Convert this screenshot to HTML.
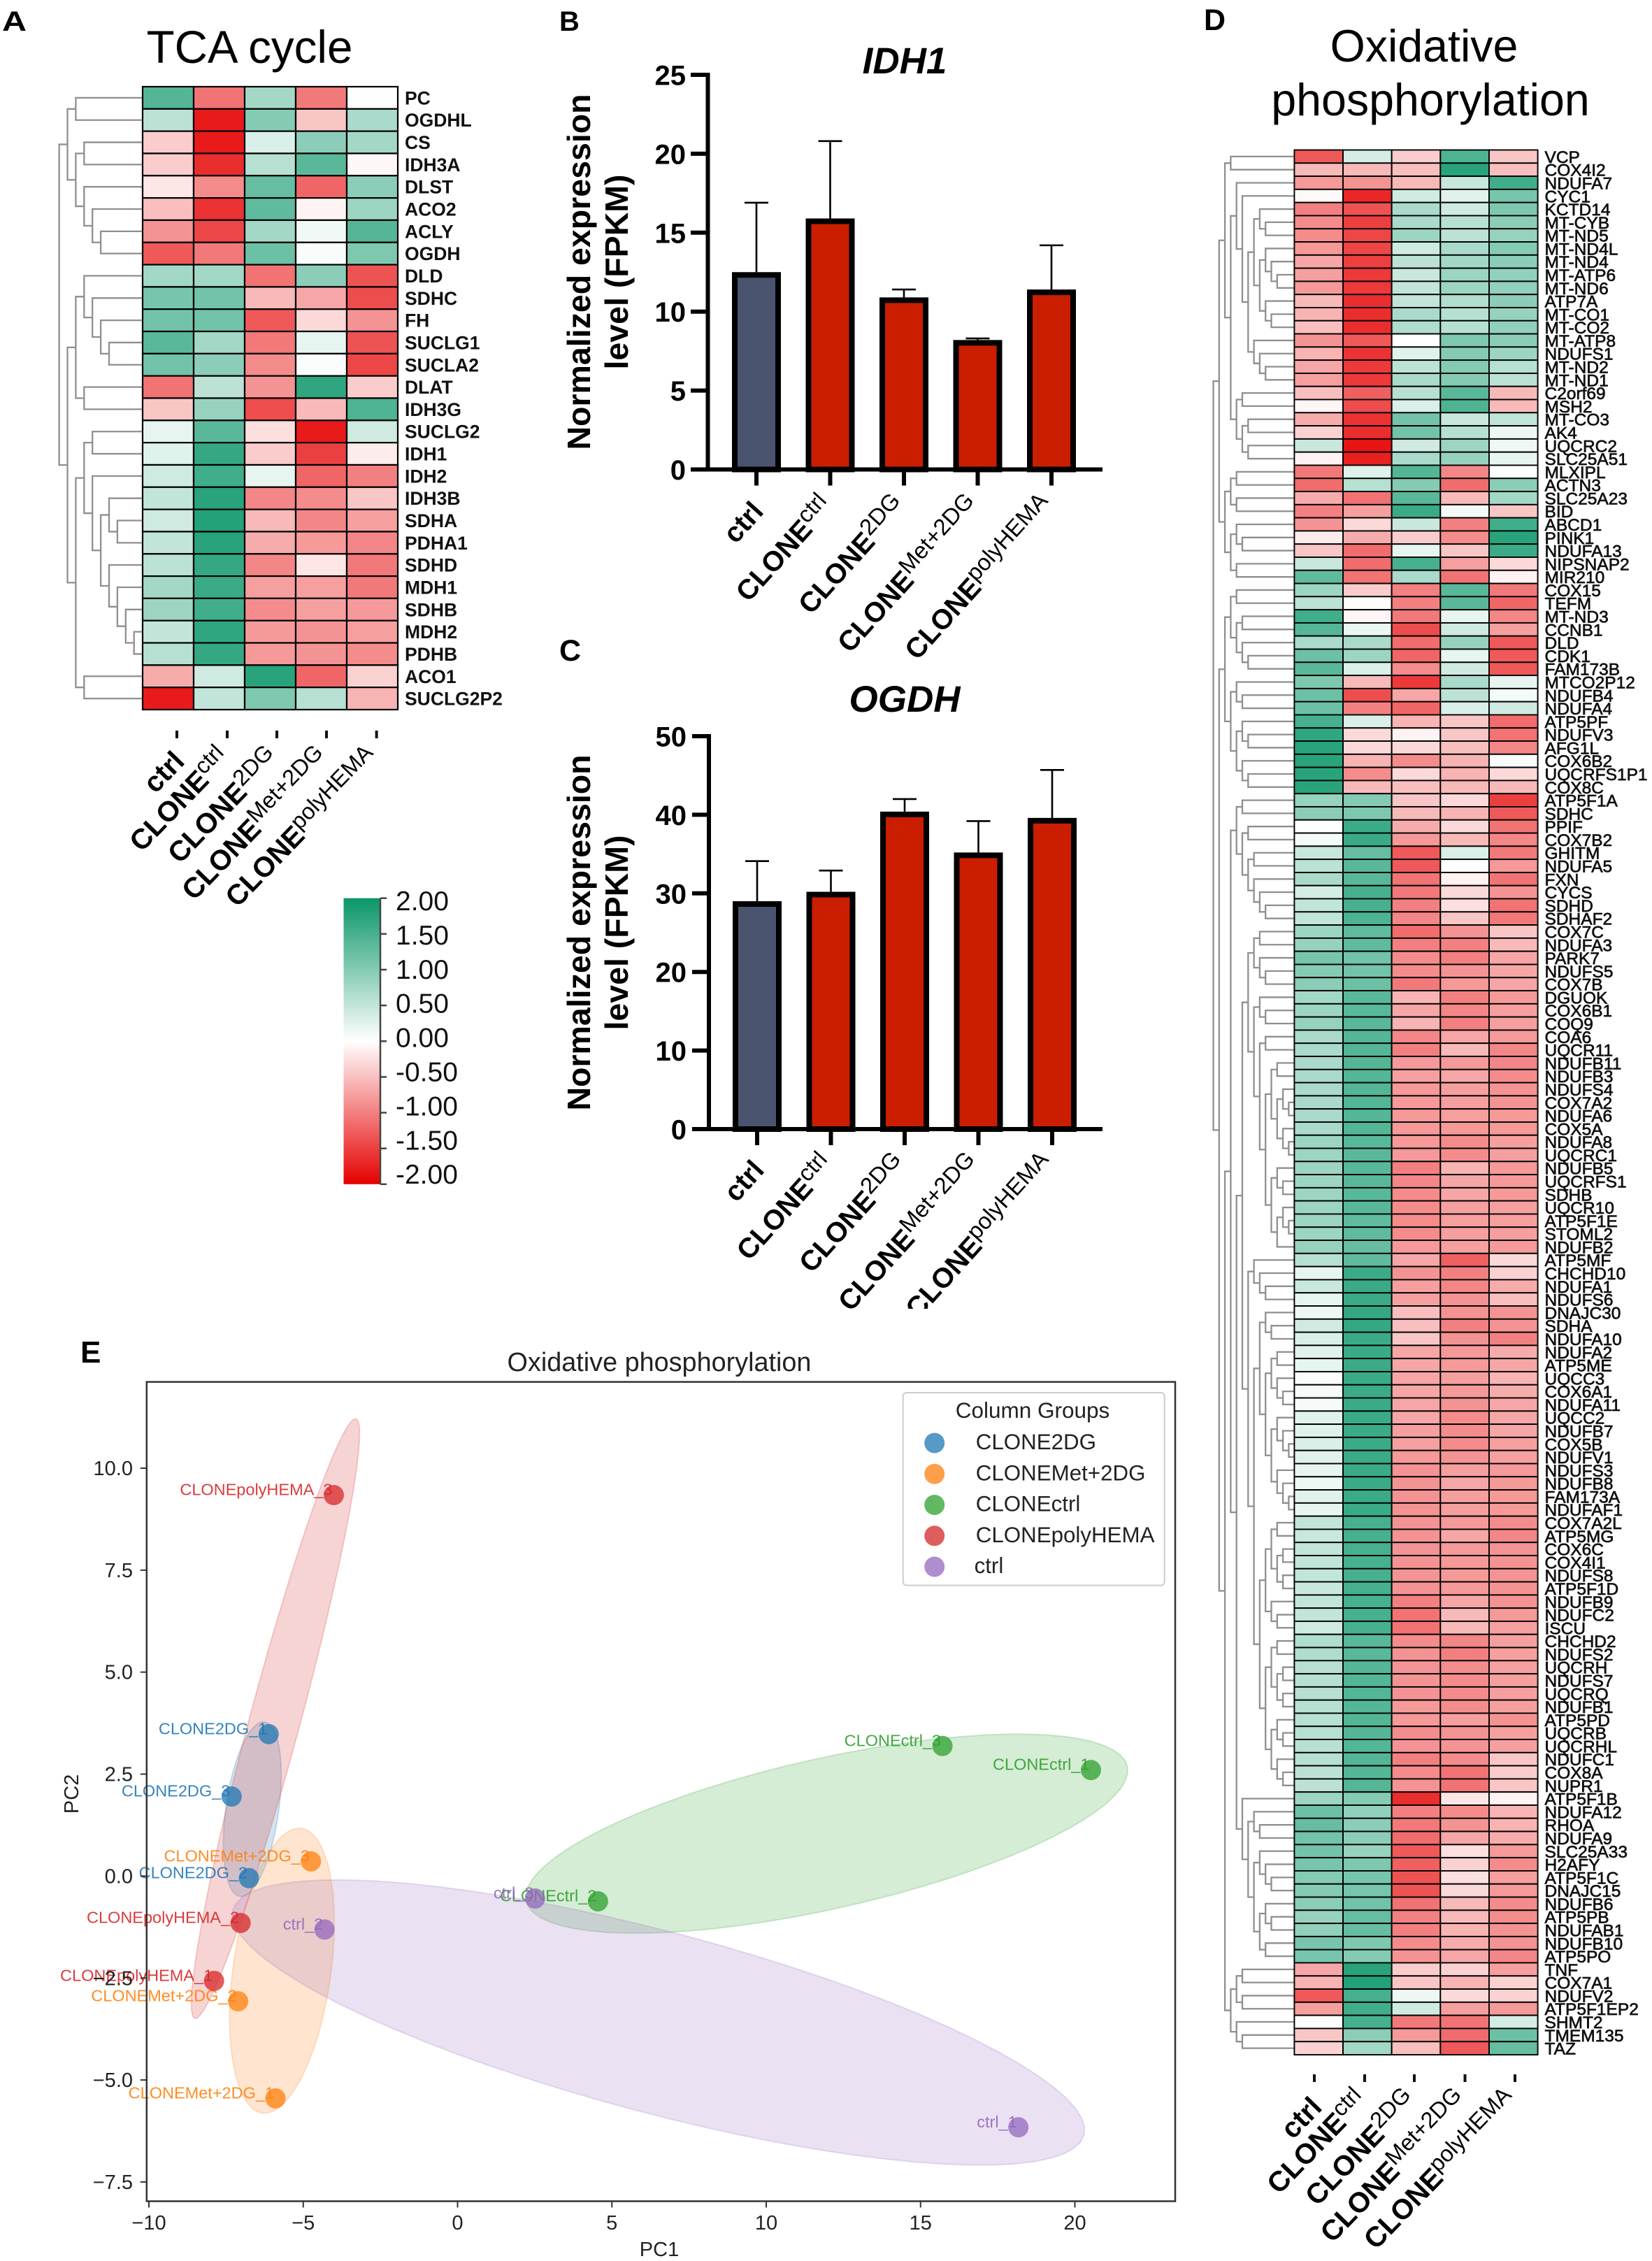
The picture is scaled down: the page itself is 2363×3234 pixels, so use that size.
<!DOCTYPE html>
<html lang="en">
<head>
<meta charset="utf-8">
<title>TCA cycle and oxidative phosphorylation figure</title>
<style>
html,body{margin:0;padding:0;background:#fff;}
svg{display:block;font-family:"Liberation Sans",Arial,sans-serif;}
</style>
</head>
<body>
<svg id="figure" xmlns="http://www.w3.org/2000/svg" width="2363" height="3234" viewBox="0 0 2363 3234">
  <defs>
    <clipPath id="clip-c-labels"><rect x="950" y="1600" width="700" height="272"/></clipPath>
    <linearGradient id="colorbar-gradient" x1="0" y1="0" x2="0" y2="1"></linearGradient>
  </defs>
  <rect x="0" y="0" width="2363" height="3234" fill="#fff"/>
  <text x="3" y="44" font-size="40" font-weight="bold" textLength="35" lengthAdjust="spacingAndGlyphs">A</text>
  <text x="800" y="44" font-size="40" font-weight="bold">B</text>
  <text x="800" y="945" font-size="43" font-weight="bold">C</text>
  <text x="1722" y="43" font-size="43" font-weight="bold">D</text>
  <text x="115" y="1949" font-size="44" font-weight="bold">E</text>
  <text x="357" y="90" font-size="65.5" text-anchor="middle">TCA cycle</text>
  <text x="2037" y="88" font-size="64.5" text-anchor="middle">Oxidative</text>
  <text x="2046" y="165" font-size="64.5" text-anchor="middle">phosphorylation</text>
  <g id="panel-a"></g>
  <g id="panel-colorbar"></g>
  <g id="panel-b"></g>
  <g id="panel-c"></g>
  <g id="panel-d"></g>
  <g id="panel-e"></g>
</svg>
<script>
/* ---------- shared category labels ---------- */
const conditionBase = ['ctrl', 'CLONE', 'CLONE', 'CLONE', 'CLONE'];
const conditionSup = ['', 'ctrl', '2DG', 'Met+2DG', 'polyHEMA'];

/* ---------- panel A data ---------- */
const tcaGenes = ['PC','OGDHL','CS','IDH3A','DLST','ACO2','ACLY','OGDH','DLD','SDHC','FH','SUCLG1','SUCLA2','DLAT','IDH3G','SUCLG2','IDH1','IDH2','IDH3B','SDHA','PDHA1','SDHD','MDH1','SDHB','MDH2','PDHB','ACO1','SUCLG2P2'];
const tcaValues = [
[1.4,-1.1,.75,-1.05,.02],[.55,-1.8,1,-.45,.7],[-.4,-1.8,.3,.95,.75],[-.4,-1.65,.6,1.35,-.06],
[-.2,-.9,1.25,-1.2,.95],[-.5,-1.6,1.3,-.1,.8],[-.85,-1.45,.75,.12,1.4],[-1.3,-1.05,1.2,.06,1.05],
[.75,.75,-1.1,.95,-1.35],[1.1,1.15,-.55,-.7,-1.4],[1.15,1.15,-1.3,-.3,-.85],[1.35,.75,-1.05,.2,-1.35],
[1.15,.95,-.9,.04,-1.45],[-1.1,.55,-.85,1.7,-.4],[-.45,.85,-1.4,-.55,1.45],[.2,1.35,-.25,-1.8,.4],
[.25,1.65,-.4,-1.5,-.15],[.4,1.55,.2,-1.2,-1],[.5,1.75,-.95,-.9,-.45],[.4,1.8,-.55,-.95,-.75],
[.5,1.75,-.65,-.8,-.95],[.55,1.65,-.95,-.2,-1.05],[.75,1.6,-.75,-.75,-1.05],[.8,1.55,-.9,-.75,-.8],
[.5,1.7,-.8,-.85,-.75],[.6,1.65,-.8,-.85,-.9],[-.65,.4,1.75,-1.2,-.35],[-1.8,.5,1.05,.6,-.6]];
const tcaTree = '(' +
  '((..)((..)(.(.(..)))))' +
  '(' +
    '((.(.(.(..))))(..))' +
    '(((..)(.((.(..))(.(.(.(..)))))))(..))' +
  ')' +
')';

/* ---------- colorbar data ---------- */
const colorbarTicks = [2, 1.5, 1, 0.5, 0, -0.5, -1, -1.5, -2];
const colorbarLabels = ['2.00','1.50','1.00','0.50','0.00','-0.50','-1.00','-1.50','-2.00'];

/* ---------- panel B / C data ---------- */
const idh1Means = [12.5, 15.9, 10.9, 8.2, 11.4];
const idh1ErrorTops = [16.9, 20.8, 11.4, 8.3, 14.2];
const idh1Ticks = [0, 5, 10, 15, 20, 25];
const ogdhMeans = [29, 30.2, 40.4, 35.2, 39.6];
const ogdhErrorTops = [34.1, 32.9, 42, 39.2, 45.7];
const ogdhTicks = [0, 10, 20, 30, 40, 50];

/* ---------- panel D data ---------- */
const oxphosGenes = ['VCP','COX4I2','NDUFA7','CYC1','KCTD14','MT-CYB','MT-ND5','MT-ND4L','MT-ND4','MT-ATP6','MT-ND6','ATP7A','MT-CO1','MT-CO2','MT-ATP8','NDUFS1','MT-ND2','MT-ND1','C2orf69','MSH2','MT-CO3','AK4','UQCRC2','SLC25A51','MLXIPL','ACTN3','SLC25A23','BID','ABCD1','PINK1','NDUFA13','NIPSNAP2','MIR210','COX15','TEFM','MT-ND3','CCNB1','DLD','CDK1','FAM173B','MTCO2P12','NDUFB4','NDUFA4','ATP5PF','NDUFV3','AFG1L','COX6B2','UQCRFS1P1','COX8C','ATP5F1A','SDHC','PPIF','COX7B2','GHITM','NDUFA5','FXN','CYCS','SDHD','SDHAF2','COX7C','NDUFA3','PARK7','NDUFS5','COX7B','DGUOK','COX6B1','COQ9','COA6','UQCR11','NDUFB11','NDUFB3','NDUFS4','COX7A2','NDUFA6','COX5A','NDUFA8','UQCRC1','NDUFB5','UQCRFS1','SDHB','UQCR10','ATP5F1E','STOML2','NDUFB2','ATP5MF','CHCHD10','NDUFA1','NDUFS6','DNAJC30','SDHA','NDUFA10','NDUFA2','ATP5ME','UQCC3','COX6A1','NDUFA11','UQCC2','NDUFB7','COX5B','NDUFV1','NDUFS3','NDUFB8','FAM173A','NDUFAF1','COX7A2L','ATP5MG','COX6C','COX4I1','NDUFS8','ATP5F1D','NDUFB9','NDUFC2','ISCU','CHCHD2','NDUFS2','UQCRH','NDUFS7','UQCRQ','NDUFB1','ATP5PD','UQCRB','UQCRHL','NDUFC1','COX8A','NUPR1','ATP5F1B','NDUFA12','RHOA','NDUFA9','SLC25A33','H2AFY','ATP5F1C','DNAJC15','NDUFB6','ATP5PB','NDUFAB1','NDUFB10','ATP5PO','TNF','COX7A1','NDUFV2','ATP5F1EP2','SHMT2','TMEM135','TAZ'];
const oxphosValues = [
[-1.3,.35,-.4,1.45,-.45],[-.55,-.55,-.5,1.75,-.5],[-.8,-.85,-.55,.45,1.55],[-.05,-1.7,.4,.25,1.1],[-1,-1.35,.7,.4,1.05],
[-.9,-1.5,.7,.6,.95],[-.9,-1.45,.8,.55,.85],[-.8,-1.45,.4,.7,1],[-.7,-1.5,.55,.75,.95],[-.75,-1.55,.45,.8,.9],
[-.8,-1.55,.5,.8,.9],[-.55,-1.65,.5,.65,.95],[-.6,-1.65,.7,.6,.85],[-.5,-1.65,.65,.6,.9],[-.85,-1.3,0,1.05,.95],
[-.6,-1.6,.25,1,.8],[-.7,-1.55,.55,1,.6],[-.75,-1.55,.7,1,.55],[-.5,-1.25,.6,1.35,-.55],[-.08,-1.4,.3,1.45,-.55],
[-.65,-1.6,1.15,.45,.5],[-.35,-1.65,1.15,.6,.15],[.45,-1.85,.4,.8,.15],[-.1,-1.75,.7,.85,.2],[-1.05,.25,1.4,-.95,.02],
[-1.15,.6,1,-1.15,.95],[-.65,-1.1,1.35,-.55,.75],[-1,-.75,1.6,.1,-.45],[-.85,-.3,.45,-1,1.55],[-.15,-.65,-.4,-.9,1.75],
[-.45,-1.15,.2,-.45,1.6],[.45,-1.15,1.5,-.75,-.3],[1.3,-1.1,.7,-1.1,-.1],[.8,-.4,-1,1.35,-1.05],[.55,-.02,-1,1.35,-1.2],
[1.55,-.07,-1.05,.2,-.95],[1.4,.18,-1.4,.4,-.75],[.7,.7,-1.15,.85,-1.3],[1.2,.8,-1.2,.2,-1.3],[1.35,.3,-.9,.4,-1.3],
[1.05,-.55,-1.55,.7,.2],[1.2,-1.4,-.7,.55,.1],[1.2,-1,-1.2,.3,.4],[1.5,.3,-.6,-.45,-1.15],[1.7,-.3,-.1,-.45,-1.1],
[1.75,-.3,-.3,-.5,-.95],[1.75,-.6,-.9,-.6,.05],[1.75,-.9,-.3,-.6,-.3],[1.75,-.55,-.5,-.55,-.55],[.85,1,-.45,-.3,-1.5],
[.95,1.05,-.55,-.6,-1.3],[0,1.6,-.65,-.3,-1.1],[.1,1.6,-.8,-.55,-.95],[.45,1.25,-1.3,.3,-1.05],[.55,1.35,-1.3,-.01,-.8],
[.7,1.35,-1.1,-.1,-1.1],[.35,1.5,-1.05,-.3,-.85],[.5,1.5,-1,-.25,-1.1],[.5,1.45,-.95,-.45,-1.05],[.8,1.3,-1.15,-.85,-.45],
[.85,1.3,-1,-1,-.55],[1.1,1.15,-.9,-1,-.7],[1,1.15,-.9,-.85,-.7],[.95,1.2,-1.05,-.8,-.7],[.75,1.35,-.6,-1,-.8],
[.8,1.35,-.7,-.95,-.75],[.85,1.35,-.6,-1,-.75],[.7,1.4,-.95,-.7,-.8],[.7,1.4,-1,-.55,-.95],[.7,1.4,-.8,-.8,-.95],
[.7,1.4,-.75,-.7,-.9],[.7,1.4,-.8,-.75,-.85],[.7,1.4,-.8,-.75,-.85],[.7,1.4,-.8,-.75,-.8],[.7,1.4,-.8,-.8,-.8],
[.8,1.35,-.8,-.9,-.75],[.8,1.35,-.8,-.9,-.75],[.8,1.35,-1,-.6,-.8],[.8,1.35,-.95,-.7,-.8],[.8,1.35,-.9,-.7,-.8],
[.8,1.35,-.9,-.75,-.75],[.8,1.3,-.9,-.75,-.75],[.8,1.3,-.9,-.75,-.75],[.85,1.25,-.8,-.75,-.8],[.6,1.3,-.7,-1.25,-.3],
[.2,1.6,-.85,-1,-.35],[.45,1.6,-.75,-.95,-.65],[.2,1.6,-.75,-.85,-.5],[.15,1.65,-.5,-.85,-.85],[.4,1.65,-.5,-1,-.85],
[.3,1.6,-.45,-.85,-1],[.25,1.6,-.7,-.8,-.65],[.2,1.6,-.7,-.8,-.7],[.05,1.6,-.7,-.75,-.6],[.07,1.6,-.7,-.8,-.65],
[.07,1.6,-.7,-.85,-.7],[.25,1.6,-.7,-.9,-.7],[.25,1.6,-.75,-.9,-.7],[.3,1.6,-.75,-.9,-.75],[.25,1.6,-.8,-.85,-.75],
[.2,1.6,-.85,-.75,-.8],[.15,1.6,-.85,-.7,-.8],[.25,1.6,-.85,-.75,-.8],[.2,1.6,-.85,-.75,-.8],[.5,1.5,-.85,-.8,-.9],
[.45,1.5,-.85,-.7,-.95],[.5,1.5,-.85,-.8,-.85],[.5,1.5,-.85,-.8,-.85],[.5,1.5,-.85,-.8,-.85],[.45,1.5,-.85,-.8,-.85],
[.5,1.5,-1,-.7,-.85],[.5,1.5,-1.1,-.55,-.8],[.4,1.5,-1.1,-.55,-.75],[.65,1.35,-.9,-.95,-.75],[.65,1.35,-.85,-1,-.75],
[.6,1.4,-.85,-.9,-.75],[.6,1.4,-.85,-.9,-.75],[.6,1.4,-.85,-.9,-.75],[.6,1.4,-.8,-.9,-.75],[.6,1.4,-.8,-.75,-.85],
[.6,1.4,-.9,-.85,-.75],[.6,1.4,-.85,-.85,-.75],[.6,1.4,-1,-.9,-.45],[.55,1.4,-.9,-1.1,-.4],[.55,1.4,-.85,-1.1,-.45],
[.8,1,-1.65,-.2,-.1],[1.2,.9,-1,-.9,-.6],[1.25,.95,-1.05,-.85,-.6],[1.15,.95,-1.15,-.7,-.65],[1.15,.85,-1.3,-.25,-.8],
[1.1,1.05,-1.25,-.35,-.9],[1,1.1,-1.35,-.25,-.75],[1,1.1,-1.35,-.3,-.8],[.95,1.15,-1.1,-.55,-.9],[.85,1.25,-1,-.55,-.9],
[.9,1.25,-1,-.6,-.85],[1.1,1.05,-.9,-.65,-.85],[1.1,1,-.85,-.7,-.95],[-.7,1.75,-.4,-.35,-.75],[-.6,1.8,-.45,-.6,-.35],
[-1.3,1.5,.15,-.3,-.35],[-.75,1.55,.4,-.75,-.8],[.03,1.5,-1.05,-1.1,.35],[-.45,.95,-.8,-1.15,1.2],[-.35,.75,-.5,-1.3,1.25]];
const oxTreeG0 = '((..)((.(.(((.(..))((.(.(..)))(.(..))))(.(.(..))))))((..)((..)(..)))))';
const oxTreeG1 = '(((..)(..))((.(..))(..)))';
const oxTreeG2 = '(((..)((..)(.(..))))((.(..))((.(..))(.(..)))))';
const oxTreeD10A = '((..)((.(..))(.(..))))';
const oxTreeD10B = '((.(..))((.(..)).))';
const oxTreeD7N = '((.(..))((..)(' + oxTreeD10A + oxTreeD10B + ')))';
const oxTreeD6X = '(((..)(.(..)))' + oxTreeD7N + ')';
const oxTreeD8S = '((.(..))(((..)(.(..)))((.(.(..)))(.(.(..))))))';
const oxTreeD8T = '((((..)((..)(..)))(.(..)))(((..)((..)(..)))((.(..))(.(..)))))';
const oxTreeD6Y = '((.(.(..)))(' + oxTreeD8S + oxTreeD8T + '))';
const oxTreeD5Q = '(.((.(..))((.(.(..)))((.(..))(..)))))';
const oxTreeD4A = '((..)((..)((..)(.(.(..))))))';
const oxTreeD3Bot = '(((..)(..))(.(..)))';
const oxTreeG3 = '((' + oxTreeD4A + '((' + oxTreeD6X + oxTreeD6Y + ')' + oxTreeD5Q + '))' + oxTreeD3Bot + ')';
const oxphosTree = '((' + oxTreeG0 + oxTreeG1 + ')(' + oxTreeG2 + oxTreeG3 + '))';

/* ---------- panel E data ---------- */
const pcaGroups = ['CLONE2DG', 'CLONEMet+2DG', 'CLONEctrl', 'CLONEpolyHEMA', 'ctrl'];
const pcaSampleNames = [
  ['CLONE2DG_1','CLONE2DG_2','CLONE2DG_3'],
  ['CLONEMet+2DG_1','CLONEMet+2DG_2','CLONEMet+2DG_3'],
  ['CLONEctrl_1','CLONEctrl_2','CLONEctrl_3'],
  ['CLONEpolyHEMA_1','CLONEpolyHEMA_2','CLONEpolyHEMA_3'],
  ['ctrl_1','ctrl_2','ctrl_3']];
const pcaPC1 = [
  [-6.12,-6.76,-7.32],
  [-5.90,-7.11,-4.75],
  [20.52,4.55,15.71],
  [-7.89,-7.03,-4.01],
  [18.17,-4.31,2.51]];
const pcaPC2 = [
  [3.48,-0.05,1.95],
  [-5.45,-3.07,0.36],
  [2.60,-0.62,3.19],
  [-2.57,-1.15,9.34],
  [-6.16,-1.31,-0.55]];
const ellipseCenterPC1 = [-6.65, -5.69, 11.96, -5.90, 6.51];
const ellipseCenterPC2 = [1.64, -2.32, 1.04, 3.86, -3.59];
const ellipseMajorPC1 = [0.40, 0.64, 9.74, 2.61, 13.79];
const ellipseMajorPC2 = [2.14, 3.49, 1.65, 7.35, -2.76];
const ellipseMinorPC1 = [0.85, 1.57, 0.53, 0.79, -0.75];
const ellipseMinorPC2 = [-0.09, -0.165, -1.80, -0.16, -2.15];
const pcaXTicks = [-10, -5, 0, 5, 10, 15, 20];
const pcaYTicks = [10, 7.5, 5, 2.5, 0, -2.5, -5, -7.5];

/* ---------- helpers ---------- */
const NS = 'http://www.w3.org/2000/svg';
function mk(tag, attrs, parent) {
  const el = document.createElementNS(NS, tag);
  for (const k in attrs) el.setAttribute(k, attrs[k]);
  if (parent) parent.appendChild(el);
  return el;
}
function mix(a, b, t) { return Math.round(a + (b - a) * t); }
function heatColor(v) {
  const t = Math.min(1, Math.abs(v) / 2);
  const end = v >= 0 ? [10, 150, 105] : [230, 0, 0];
  return 'rgb(' + mix(255, end[0], t) + ',' + mix(255, end[1], t) + ',' + mix(255, end[2], t) + ')';
}
function parseTree(s) {
  let pos = 0, leaf = 0;
  function node(d) {
    if (s[pos] === '.') { pos++; return { leaf: leaf++ }; }
    pos++;
    const a = node(d + 1), b = node(d + 1);
    pos++;
    return { d: d, a: a, b: b };
  }
  return node(0);
}
function conditionLabel(parent, i, x, y, size, supSize, dy, angle) {
  const t = mk('text', { x: x, y: y, 'text-anchor': 'end', 'font-size': size, 'font-weight': 'bold', fill: '#000', transform: 'rotate(-' + angle + ' ' + x + ' ' + y + ')' }, parent);
  
  
  const base = mk('tspan', {}, t);
  base.textContent = conditionBase[i];
  if (conditionSup[i]) {
    const sup = mk('tspan', { dy: -dy, 'font-size': supSize, 'font-weight': 'normal' }, t);
    sup.textContent = conditionSup[i];
  }
  return t;
}

/* ---------- heatmap with dendrogram ---------- */
function drawHeatmap(parent, genes, values, treeString, geo) {
  const rowH = (geo.bottom - geo.top) / genes.length;
  const colW = (geo.right - geo.left) / 5;
  const rowY = i => geo.top + i * rowH;
  const colX = j => geo.left + j * colW;
  const depthX = d => geo.rootX + d * geo.step;
  const tree = parseTree(treeString);
  const centerY = n => n.leaf !== undefined ? rowY(n.leaf) + rowH / 2 : (centerY(n.a) + centerY(n.b)) / 2;
  const childX = n => n.leaf !== undefined ? geo.left : depthX(n.d);
  (function walk(n) {
    if (n.leaf !== undefined) return;
    const x = depthX(n.d);
    const path = mk('path', {
      d: 'M' + childX(n.a) + ' ' + centerY(n.a) + 'H' + x + 'V' + centerY(n.b) + 'H' + childX(n.b),
      fill: 'none', stroke: '#8f8f8f', 'stroke-width': 2.3
    }, parent);
    
    
    walk(n.a);
    walk(n.b);
  })(tree);
  genes.forEach((gene, i) => {
    values[i].forEach((v, j) => {
      const cell = mk('rect', { x: colX(j), y: rowY(i), width: colW, height: rowH, fill: heatColor(v), stroke: '#000', 'stroke-width': geo.cellStroke }, parent);
      
      
    });
    const label = mk('text', { x: geo.labelX, y: rowY(i) + rowH / 2 + geo.labelDy, 'font-size': geo.labelSize, 'font-weight': geo.labelWeight, fill: '#111', stroke: geo.labelStroke ? '#111' : 'none', 'stroke-width': geo.labelStroke }, parent);
    
    
    label.textContent = gene;
  });
  geo.ticks.forEach((x, i) => {
    const tick = mk('rect', { x: x - 2, y: geo.tickTop, width: 4, height: geo.tickH, fill: '#111' }, parent);
    
    
    const isCtrl = conditionSup[i] === '';
    conditionLabel(parent, i, x + (isCtrl ? geo.ctrlDx : geo.cloneDx), isCtrl ? geo.ctrlY : geo.cloneY, geo.xSize, geo.xSupSize, 13, 46);
  });
}
drawHeatmap(document.getElementById('panel-a'), tcaGenes, tcaValues, tcaTree, {
  left: 204, right: 569, top: 124, bottom: 1015, rootX: 84.6, step: 11.9, cellStroke: 2.2,
  labelX: 579, labelDy: 9.5, labelSize: 26.5, labelWeight: 'bold', labelStroke: 0,
  ticks: [253, 325, 396, 467, 538.6], tickTop: 1045, tickH: 11,
  ctrlDx: 13, ctrlY: 1091, cloneDx: 6, cloneY: 1087, xSize: 40.5, xSupSize: 32.5
});
drawHeatmap(document.getElementById('panel-d'), oxphosGenes, oxphosValues, oxphosTree, {
  left: 1851.4, right: 2199.6, top: 214.5, bottom: 2939, rootX: 1735.5, step: 8.3, cellStroke: 1.9,
  labelX: 2209.5, labelDy: 9, labelSize: 24.5, labelWeight: 'normal', labelStroke: 0.7,
  ticks: [1880, 1952, 2023, 2095.5, 2167], tickTop: 2967, tickH: 11,
  ctrlDx: 13, ctrlY: 3016, cloneDx: 6, cloneY: 3007, xSize: 40.5, xSupSize: 32.5
});

/* ---------- colorbar ---------- */
(function () {
  const g = document.getElementById('panel-colorbar');
  const grad = document.getElementById('colorbar-gradient');
  [2, 1, 0, -1, -2].forEach((v, i) => {
    mk('stop', { offset: (i * 25) + '%', 'stop-color': heatColor(v) }, grad);
  });
  const top = 1284.7, bottom = 1693.8;
  const tickY = v => top + (2 - v) / 4 * (bottom - top);
  const labelY = v => 1288.5 + (2 - v) / 4 * 391.2 + 13.5;
  const bar = mk('rect', { x: 491.5, y: top, width: 52.5, height: bottom - top, fill: 'url(#colorbar-gradient)' }, g);
  
  
  const axis = mk('line', { x1: 544, x2: 544, y1: top, y2: bottom, stroke: '#444', 'stroke-width': 2.5 }, g);
  
  
  colorbarTicks.forEach((v, i) => {
    const t = mk('line', { x1: 544, x2: 553, y1: tickY(v), y2: tickY(v), stroke: '#444', 'stroke-width': 2.5 }, g);
    
    
    const l = mk('text', { x: 566, y: labelY(v), 'font-size': 39, fill: '#111' }, g);
    
    
    l.textContent = colorbarLabels[i];
  });
})();

/* ---------- bar charts ---------- */
function drawBars(parent, means, errs, ticks, geo) {
  const yOf = v => geo.y0 - v / ticks[ticks.length - 1] * (geo.y0 - geo.yTop);
  const xOf = i => geo.firstX + i * geo.stepX;
  const axisW = 6, border = 8, barW = 70;
  const title = mk('text', { x: 1294, y: geo.titleY, 'font-size': 53, 'font-weight': 'bold', 'font-style': 'italic', 'text-anchor': 'middle' }, parent);
  
  
  title.textContent = geo.title;
  const yt1 = mk('text', { x: 0, y: 0, 'font-size': 46.5, 'font-weight': 'bold', 'text-anchor': 'middle', transform: 'translate(844 ' + geo.titleCy + ') rotate(-90)' }, parent);
  
  
  yt1.textContent = 'Normalized expression';
  const yt2 = mk('text', { x: 0, y: 0, 'font-size': 46.5, 'font-weight': 'bold', 'text-anchor': 'middle', transform: 'translate(898 ' + geo.titleCy + ') rotate(-90)' }, parent);
  
  
  yt2.textContent = 'level (FPKM)';
  means.forEach((m, i) => {
    const err = mk('path', { d: 'M' + xOf(i) + ' ' + yOf(m) + 'V' + yOf(errs[i]) + 'M' + (xOf(i) - 17) + ' ' + yOf(errs[i]) + 'H' + (xOf(i) + 17), fill: 'none', stroke: '#000', 'stroke-width': 2.6 }, parent);
    
    
    const bar = mk('rect', { x: xOf(i) - barW / 2 + border / 2, y: yOf(m) + border / 2, width: barW - border, height: geo.y0 - yOf(m) - border / 2, fill: i === 0 ? '#4a546f' : '#cb1e00', stroke: '#000', 'stroke-width': border }, parent);
    
    
  });
  const yAxis = mk('line', { x1: geo.axisX, x2: geo.axisX, y1: geo.yTop - axisW / 2, y2: geo.y0, stroke: '#000', 'stroke-width': axisW }, parent);
  
  
  const xAxis = mk('line', { x1: geo.tickLeft, x2: 1577, y1: geo.y0, y2: geo.y0, stroke: '#000', 'stroke-width': axisW }, parent);
  
  
  ticks.forEach(v => {
    const t = mk('line', { x1: geo.tickLeft, x2: geo.axisX, y1: yOf(v), y2: yOf(v), stroke: '#000', 'stroke-width': axisW }, parent);
    
    
    const l = mk('text', { x: geo.tickLabelX, y: yOf(v) + 14.5, 'font-size': 40, 'font-weight': 'bold', 'text-anchor': 'end' }, parent);
    
    
    l.textContent = String(v);
  });
  const labelHost = geo.clip ? mk('g', { 'clip-path': 'url(#' + geo.clip + ')' }, parent) : parent;
  conditionBase.forEach((b, i) => {
    const t = mk('line', { x1: xOf(i), x2: xOf(i), y1: geo.y0, y2: geo.y0 + 23, stroke: '#000', 'stroke-width': axisW }, parent);
    
    
    const isCtrl = conditionSup[i] === '';
    conditionLabel(labelHost, i, xOf(i) + (isCtrl ? 12 : 6), geo.labelY + (isCtrl ? 7 : 0), 40, 33, 13, 48);
  });
}
drawBars(document.getElementById('panel-b'), idh1Means, idh1ErrorTops, idh1Ticks, {
  y0: 671.5, yTop: 107, firstX: 1082, stepX: 105.5, axisX: 1012.5, tickLeft: 988, tickLabelX: 981,
  title: 'IDH1', titleY: 105, titleCy: 389, labelY: 726
});
drawBars(document.getElementById('panel-c'), ogdhMeans, ogdhErrorTops, ogdhTicks, {
  y0: 1615, yTop: 1053, firstX: 1083, stepX: 105.5, axisX: 1014, tickLeft: 990, tickLabelX: 982,
  title: 'OGDH', titleY: 1018, titleCy: 1334, labelY: 1668, clip: 'clip-c-labels'
});

/* ---------- PCA scatter ---------- */
(function () {
  const g = document.getElementById('panel-e');
  const colors = ['#1f77b4', '#ff7f0e', '#2ca02c', '#d62728', '#9467bd'];
  const xOf = v => 654.5 + 44.15 * v;
  const yOf = v => 2683.4 - 58.34 * v;
  const frame = { l: 209.8, t: 1976.6, r: 1681, b: 3148.5 };
  const title = mk('text', { x: 943, y: 1961, 'font-size': 37.8, 'text-anchor': 'middle', fill: '#222' }, g);
  
  
  title.textContent = 'Oxidative phosphorylation';
  pcaGroups.forEach((name, k) => {
    let d = '';
    for (let i = 0; i <= 72; i++) {
      const a = i / 72 * Math.PI * 2;
      const px = ellipseCenterPC1[k] + ellipseMajorPC1[k] * Math.cos(a) + ellipseMinorPC1[k] * Math.sin(a);
      const py = ellipseCenterPC2[k] + ellipseMajorPC2[k] * Math.cos(a) + ellipseMinorPC2[k] * Math.sin(a);
      d += (i ? 'L' : 'M') + xOf(px).toFixed(1) + ' ' + yOf(py).toFixed(1);
    }
    const e = mk('path', { d: d + 'Z', fill: colors[k], 'fill-opacity': 0.2, stroke: colors[k], 'stroke-opacity': 0.2, 'stroke-width': 2 }, g);
    
    
  });
  pcaGroups.forEach((name, k) => {
    pcaPC1[k].forEach((v, i) => {
      const c = mk('circle', { cx: xOf(v), cy: yOf(pcaPC2[k][i]), r: 14.5, fill: colors[k], 'fill-opacity': 0.75 }, g);
      
      
      const l = mk('text', { x: xOf(v) - 2, y: yOf(pcaPC2[k][i]), 'font-size': 23.5, 'text-anchor': 'end', fill: colors[k], 'fill-opacity': 0.9 }, g);
      
      
      l.textContent = pcaSampleNames[k][i];
    });
  });
  const box = mk('rect', { x: frame.l, y: frame.t, width: frame.r - frame.l, height: frame.b - frame.t, fill: 'none', stroke: '#333', 'stroke-width': 2.5 }, g);
  
  
  pcaXTicks.forEach(v => {
    const t = mk('line', { x1: xOf(v), x2: xOf(v), y1: frame.b, y2: frame.b + 9, stroke: '#333', 'stroke-width': 2 }, g);
    
    
    const l = mk('text', { x: xOf(v), y: 3189, 'font-size': 29, 'text-anchor': 'middle', fill: '#222' }, g);
    
    
    l.textContent = String(v).replace('-', '\u2212');
  });
  pcaYTicks.forEach(v => {
    const t = mk('line', { x1: frame.l - 9, x2: frame.l, y1: yOf(v), y2: yOf(v), stroke: '#333', 'stroke-width': 2 }, g);
    
    
    const l = mk('text', { x: 190, y: yOf(v) + 10, 'font-size': 29, 'text-anchor': 'end', fill: '#222' }, g);
    
    
    l.textContent = v.toFixed(1).replace('-', '\u2212');
  });
  const xt = mk('text', { x: 943, y: 3227, 'font-size': 29, 'text-anchor': 'middle', fill: '#222' }, g);
  
  
  xt.textContent = 'PC1';
  const yt = mk('text', { x: 0, y: 0, 'font-size': 29, 'text-anchor': 'middle', fill: '#222', transform: 'translate(112 2566) rotate(-90)' }, g);
  
  
  yt.textContent = 'PC2';
  const legend = mk('rect', { x: 1291.7, y: 1992, width: 374, height: 275.6, rx: 5, fill: '#fff', 'fill-opacity': 0.8, stroke: '#ccc', 'stroke-width': 2 }, g);
  
  
  const lt = mk('text', { x: 1477, y: 2028, 'font-size': 31.5, 'text-anchor': 'middle', fill: '#222' }, g);
  
  
  lt.textContent = 'Column Groups';
  pcaGroups.forEach((name, k) => {
    const ly = 2064 + k * 44.25;
    const c = mk('circle', { cx: 1336.7, cy: ly, r: 14.5, fill: colors[k], 'fill-opacity': 0.75 }, g);
    
    
    const t = mk('text', { x: name === 'ctrl' ? 1393.6 : 1395.8, y: ly + 9, 'font-size': 31.3, fill: '#222' }, g);
    
    
    t.textContent = name;
  });
})();
</script>
</body>
</html>
